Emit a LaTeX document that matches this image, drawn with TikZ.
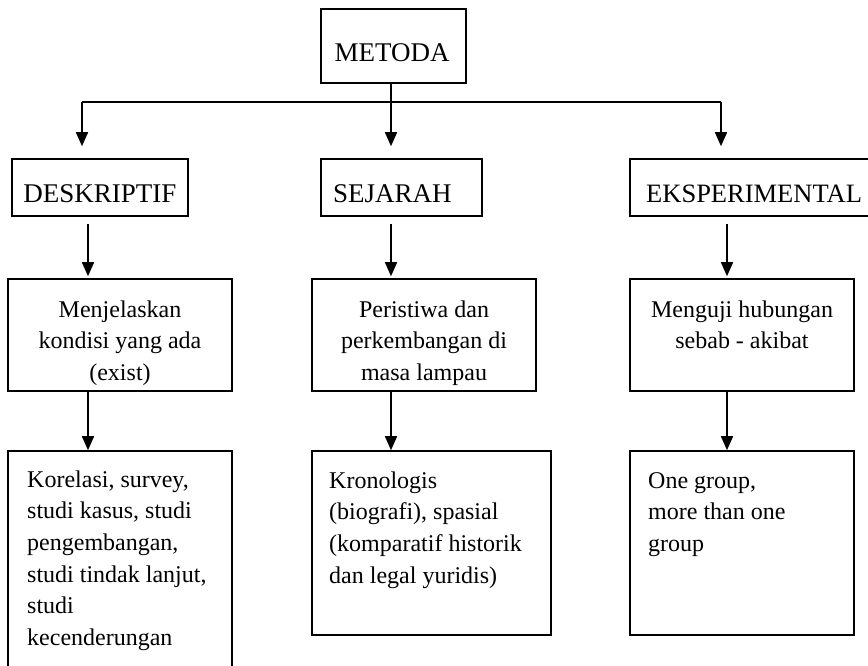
\documentclass[tikz,border=0pt]{standalone}
\usepackage{fontspec}
\setmainfont{Liberation Serif}
\usetikzlibrary{arrows.meta,fit}
\newcommand{\headfont}{\fontsize{27}{32}\selectfont}
\newcommand{\bodyfont}{\fontsize{24}{31.7}\selectfont}
\tikzset{
  boxshape/.style={draw=black, line width=1.6pt, inner sep=0pt, fill=none},
  headtext/.style={inner sep=0pt, font=\headfont},
  bodyc/.style={inner sep=0pt, font=\bodyfont, align=center, anchor=north},
  bodyl/.style={inner sep=0pt, font=\bodyfont, align=left, anchor=north west},
  conn/.style={draw=black, line width=1.6pt},
  arr/.style={conn, -{Triangle[width=12pt,length=14pt]}}
}
\begin{document}
\begin{tikzpicture}[x=1pt,y=-1pt]
\clip (0,0) rectangle (868,666);
\fill[white] (0,0) rectangle (868,666);
% boxes
\node[boxshape, fit={(321,9) (466,83)}] (metB) {};
\node[boxshape, fit={(12,159) (188,216)}] (desB) {};
\node[boxshape, fit={(321,159) (482,216)}] (sejB) {};
\node[boxshape, fit={(630,159) (900,216)}] (eksB) {};
\node[boxshape, fit={(8,279) (232,391)}] (menB) {};
\node[boxshape, fit={(312,279) (536,391)}] (perB) {};
\node[boxshape, fit={(630,279) (854,391)}] (ujiB) {};
\node[boxshape, fit={(8,451) (232,700)}] (korB) {};
\node[boxshape, fit={(312,451) (551,635)}] (kroB) {};
\node[boxshape, fit={(630,451) (854,635)}] (oneB) {};
% heading texts
\node[headtext, anchor=base] (metT) at (392,62) {METODA};
\node[headtext, anchor=base] (desT) at (100,202) {DESKRIPTIF};
\node[headtext, anchor=base west] (sejT) at (333,202) {SEJARAH};
\node[headtext, anchor=base west] (eksT) at (646,202) {\fontsize{26.5}{32}\selectfont EKSPERIMENTAL};
% body texts
\node[bodyc] (menT) at (120,294.8) {\strut Menjelaskan\\kondisi yang ada\\(exist)};
\node[bodyc] (perT) at (424,294.8) {\strut Peristiwa dan\\perkembangan di\\masa lampau};
\node[bodyc] (ujiT) at (742,294.8) {\strut Menguji hubungan\\sebab - akibat};
\node[bodyl] (korT) at (27,464.8) {\strut Korelasi, survey,\\studi kasus, studi\\pengembangan,\\studi tindak lanjut,\\studi\\kecenderungan};
\node[bodyl] (kroT) at (329,465.8) {\strut Kronologis\\(biografi), spasial\\(komparatif historik\\dan legal yuridis)};
\node[bodyl] (oneT) at (648,465.8) {\strut One group,\\more than one\\group};
% connector points
\coordinate (hl) at (82,102);
\coordinate (hm) at (391,102);
\coordinate (hr) at (721,102);
\coordinate (c1) at (88,0);
\coordinate (c2) at (391,0);
\coordinate (c3) at (727,0);
% connectors
\draw[conn] (metB.south -| hm) -- (hm);
\draw[conn] (hl) -- (hr);
\draw[arr, shorten >=12pt] (hl) -- (hl |- desB.north);
\draw[arr, shorten >=12pt] (hm) -- (hm |- sejB.north);
\draw[arr, shorten >=12pt] (hr) -- (hr |- eksB.north);
\draw[arr, shorten <=7pt, shorten >=2pt] (desB.south -| c1) -- (menB.north -| c1);
\draw[arr, shorten <=7pt, shorten >=2pt] (sejB.south -| c2) -- (perB.north -| c2);
\draw[arr, shorten <=7pt, shorten >=2pt] (eksB.south -| c3) -- (ujiB.north -| c3);
\draw[arr] (menB.south -| c1) -- (korB.north -| c1);
\draw[arr] (perB.south -| c2) -- (kroB.north -| c2);
\draw[arr] (ujiB.south -| c3) -- (oneB.north -| c3);
\end{tikzpicture}
\end{document}
